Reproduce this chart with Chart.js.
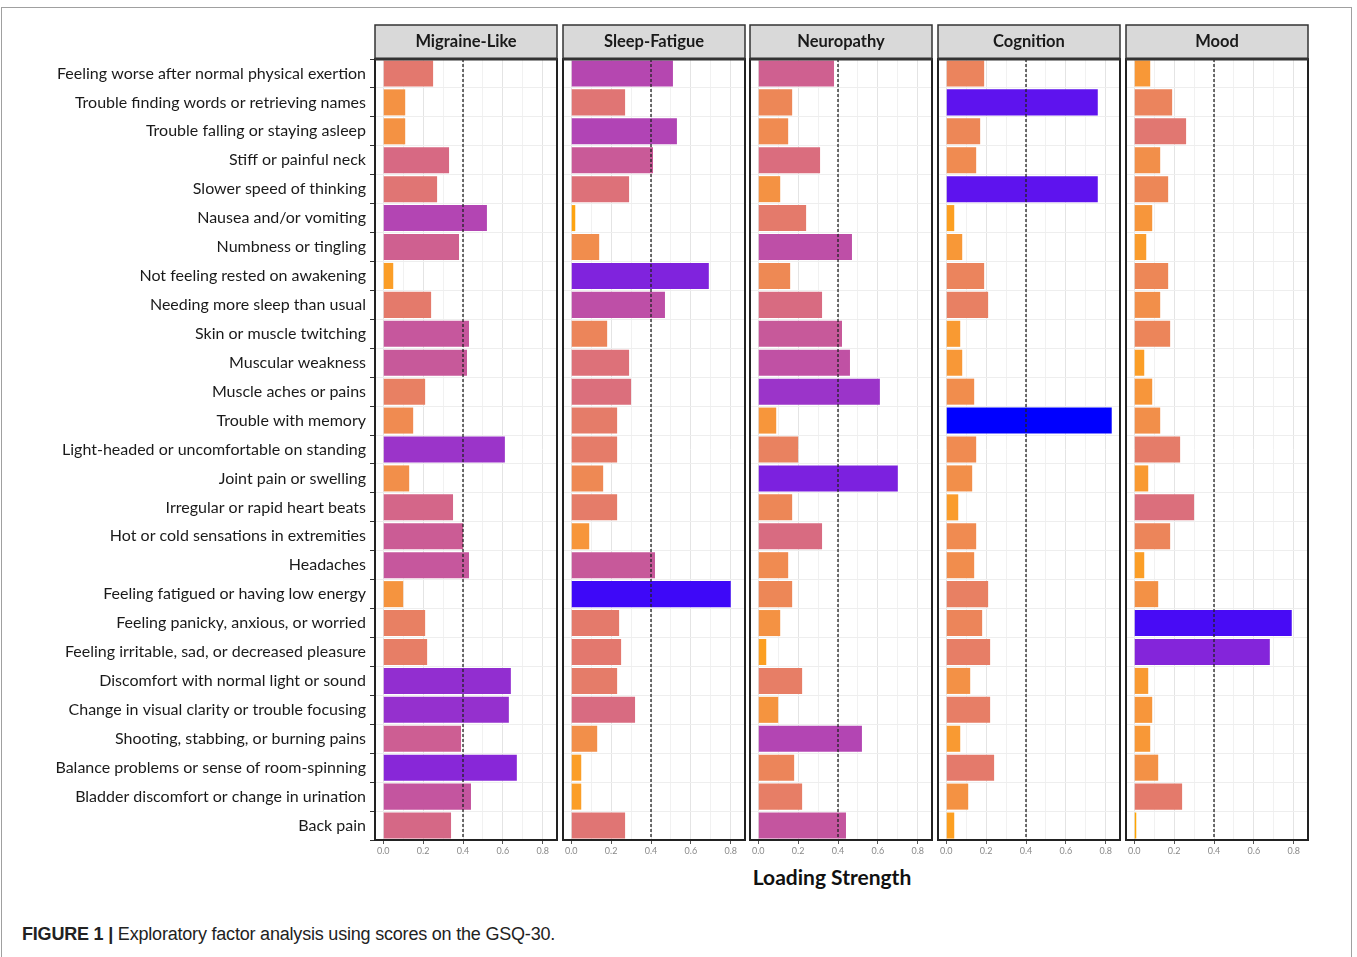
<!DOCTYPE html>
<html>
<head>
<meta charset="utf-8">
<script src="https://cdn.jsdelivr.net/npm/chart.js@4.4.1/dist/chart.umd.min.js"></script>
<style>
  body { margin:0; background:#fff; width:1357px; height:957px; overflow:hidden; position:relative; font-family: Lato, sans-serif; }
  #frame { position:absolute; left:1px; top:7px; width:1349px; height:960px; border:1px solid #a0a0a0; }
  canvas { position:absolute; top:0; }
  #xtitle { position:absolute; top:864px; left:732px; width:200px; text-align:center; font: bold 21px Lato, sans-serif; color:#111; }
  #caption { position:absolute; left:22px; top:924px; font-size:18px; color:#222; font-family:"Liberation Sans", Arial, sans-serif; letter-spacing:-0.2px; }
</style>
</head>
<body>
<div id="frame"></div>
<div id="xtitle">Loading Strength</div>
<div id="caption"><b>FIGURE 1 |</b> Exploratory factor analysis using scores on the GSQ-30.</div>
<script>
const symptoms = [
  'Feeling worse after normal physical exertion',
  'Trouble finding words or retrieving names',
  'Trouble falling or staying asleep',
  'Stiff or painful neck',
  'Slower speed of thinking',
  'Nausea and/or vomiting',
  'Numbness or tingling',
  'Not feeling rested on awakening',
  'Needing more sleep than usual',
  'Skin or muscle twitching',
  'Muscular weakness',
  'Muscle aches or pains',
  'Trouble with memory',
  'Light-headed or uncomfortable on standing',
  'Joint pain or swelling',
  'Irregular or rapid heart beats',
  'Hot or cold sensations in extremities',
  'Headaches',
  'Feeling fatigued or having low energy',
  'Feeling panicky, anxious, or worried',
  'Feeling irritable, sad, or decreased pleasure',
  'Discomfort with normal light or sound',
  'Change in visual clarity or trouble focusing',
  'Shooting, stabbing, or burning pains',
  'Balance problems or sense of room-spinning',
  'Bladder discomfort or change in urination',
  'Back pain'
];

const factorNames = ['Migraine-Like', 'Sleep-Fatigue', 'Neuropathy', 'Cognition', 'Mood'];

const migraineLike = [0.25, 0.11, 0.11, 0.33, 0.27, 0.52, 0.38, 0.05, 0.24, 0.43, 0.42, 0.21, 0.15, 0.61, 0.13, 0.35, 0.40, 0.43, 0.10, 0.21, 0.22, 0.64, 0.63, 0.39, 0.67, 0.44, 0.34];
const sleepFatigue = [0.51, 0.27, 0.53, 0.41, 0.29, 0.02, 0.14, 0.69, 0.47, 0.18, 0.29, 0.30, 0.23, 0.23, 0.16, 0.23, 0.09, 0.42, 0.80, 0.24, 0.25, 0.23, 0.32, 0.13, 0.05, 0.05, 0.27];
const neuropathy = [0.38, 0.17, 0.15, 0.31, 0.11, 0.24, 0.47, 0.16, 0.32, 0.42, 0.46, 0.61, 0.09, 0.20, 0.70, 0.17, 0.32, 0.15, 0.17, 0.11, 0.04, 0.22, 0.10, 0.52, 0.18, 0.22, 0.44];
const cognition = [0.19, 0.76, 0.17, 0.15, 0.76, 0.04, 0.08, 0.19, 0.21, 0.07, 0.08, 0.14, 0.83, 0.15, 0.13, 0.06, 0.15, 0.14, 0.21, 0.18, 0.22, 0.12, 0.22, 0.07, 0.24, 0.11, 0.04];
const mood = [0.08, 0.19, 0.26, 0.13, 0.17, 0.09, 0.06, 0.17, 0.13, 0.18, 0.05, 0.09, 0.13, 0.23, 0.07, 0.30, 0.18, 0.05, 0.12, 0.79, 0.68, 0.07, 0.09, 0.08, 0.12, 0.24, 0.01];

const xTickLabels = [0, 0.2, 0.4, 0.6, 0.8];
const gridValues = [0, 0.1, 0.2, 0.3, 0.4, 0.5, 0.6, 0.7, 0.8];
const cutoff = 0.4;

const seriesList = [migraineLike, sleepFatigue, neuropathy, cognition, mood];

// panel geometry
const panelLeft = [375, 563, 750, 938, 1126];
const panelWidth = 182;

// fill scale: orange -> blue, interpolated in Lab like ggplot's scale_fill_gradient
const allValues = seriesList.flat();
const vMin = Math.min(...allValues), vMax = Math.max(...allValues);
const xMin = -0.05 * vMax, xMax = 1.05 * vMax;

function toLab(r, g, b) {
  const lin = c => { c /= 255; return c <= 0.04045 ? c / 12.92 : Math.pow((c + 0.055) / 1.055, 2.4); };
  const R = lin(r), G = lin(g), B = lin(b);
  const X = (R * 0.4124 + G * 0.3576 + B * 0.1805) / 0.95047;
  const Y = (R * 0.2126 + G * 0.7152 + B * 0.0722);
  const Z = (R * 0.0193 + G * 0.1192 + B * 0.9505) / 1.08883;
  const f = t => t > 0.008856 ? Math.cbrt(t) : 7.787 * t + 16 / 116;
  return [116 * f(Y) - 16, 500 * (f(X) - f(Y)), 200 * (f(Y) - f(Z))];
}
function fromLab(L, a, b) {
  const fy = (L + 16) / 116, fx = fy + a / 500, fz = fy - b / 200;
  const inv = t => t * t * t > 0.008856 ? t * t * t : (t - 16 / 116) / 7.787;
  const X = inv(fx) * 0.95047, Y = inv(fy), Z = inv(fz) * 1.08883;
  const R = 3.2406 * X - 1.5372 * Y - 0.4986 * Z;
  const G = -0.9689 * X + 1.8758 * Y + 0.0415 * Z;
  const B = 0.0557 * X - 0.2040 * Y + 1.0570 * Z;
  const g = c => { c = c <= 0.0031308 ? 12.92 * c : 1.055 * Math.pow(c, 1 / 2.4) - 0.055; return Math.round(Math.min(1, Math.max(0, c)) * 255); };
  return 'rgb(' + g(R) + ',' + g(G) + ',' + g(B) + ')';
}
const lowLab = toLab(255, 165, 0), highLab = toLab(0, 0, 255);
function fillFor(v) {
  const t = Math.min(1, Math.max(0, (v - vMin) / (vMax - vMin)));
  return fromLab(lowLab[0] + (highLab[0] - lowLab[0]) * t,
                 lowLab[1] + (highLab[1] - lowLab[1]) * t,
                 lowLab[2] + (highLab[2] - lowLab[2]) * t);
}

const panelDecor = {
  id: 'panelDecor',
  afterDatasetsDraw(chart, args, opts) {
    const ctx = chart.ctx, a = chart.chartArea, x = chart.scales.x;
    const px = x.getPixelForValue(cutoff);
    ctx.save();
    ctx.setLineDash([3, 2]);
    ctx.strokeStyle = '#222';
    ctx.lineWidth = 1.3;
    ctx.beginPath();
    ctx.moveTo(px, a.top);
    ctx.lineTo(px, a.bottom);
    ctx.stroke();
    ctx.setLineDash([]);

    ctx.lineWidth = 2;
    ctx.strokeStyle = '#222';
    ctx.strokeRect(a.left, a.top, a.right - a.left, a.bottom - a.top);

    // facet strip
    ctx.fillStyle = '#d9d9d9';
    ctx.fillRect(a.left, 25, a.right - a.left, a.top - 25);
    ctx.lineWidth = 1.5;
    ctx.strokeStyle = '#333';
    ctx.strokeRect(a.left, 25, a.right - a.left, a.top - 25);
    ctx.lineWidth = 3;
    ctx.beginPath();
    ctx.moveTo(a.left, a.top);
    ctx.lineTo(a.right, a.top);
    ctx.stroke();

    ctx.fillStyle = '#1a1a1a';
    ctx.font = 'bold 16.5px Lato, sans-serif';
    ctx.textAlign = 'center';
    ctx.textBaseline = 'middle';
    ctx.fillText(opts.title, (a.left + a.right) / 2, 42);
    ctx.restore();
  }
};

function makePanel(idx) {
  const first = idx === 0;
  const left = panelLeft[idx];
  const cLeft = first ? 0 : left - 3;
  const cWidth = first ? left + panelWidth + 3 : panelWidth + 6;
  const canvas = document.createElement('canvas');
  canvas.width = cWidth;
  canvas.height = 862;
  canvas.style.left = cLeft + 'px';
  canvas.style.width = cWidth + 'px';
  canvas.style.height = '862px';
  document.body.appendChild(canvas);

  new Chart(canvas, {
    type: 'bar',
    data: {
      labels: symptoms,
      datasets: [{
        data: seriesList[idx],
        backgroundColor: c => fillFor(c.raw),
        categoryPercentage: 1,
        barPercentage: 0.9
      }]
    },
    options: {
      indexAxis: 'y',
      responsive: false,
      animation: false,
      devicePixelRatio: 1,
      layout: { padding: { top: 59, left: first ? 0 : 3, right: 3, bottom: 0 } },
      plugins: {
        legend: { display: false },
        tooltip: { enabled: false },
        panelDecor: { title: factorNames[idx] }
      },
      scales: {
        x: {
          min: xMin,
          max: xMax,
          afterBuildTicks: s => { s.ticks = gridValues.map(v => ({ value: v })); },
          afterFit: s => { s.height = 22; },
          border: { display: false },
          grid: {
            color: c => xTickLabels.includes(c.tick.value) ? '#e4e4e4' : '#f1f1f1',
            tickColor: c => xTickLabels.includes(c.tick.value) ? '#555' : 'rgba(0,0,0,0)',
            tickLength: 4
          },
          ticks: {
            autoSkip: false,
            maxRotation: 0,
            padding: 2,
            color: '#8a8a8a',
            font: { family: 'Lato, sans-serif', size: 9 },
            callback: v => xTickLabels.includes(v) ? v.toFixed(1) : ''
          }
        },
        y: {
          afterFit: s => { s.width = first ? left : 0; },
          border: { display: false },
          grid: { color: '#eeeeee', drawTicks: first, tickLength: 5, tickColor: '#333' },
          ticks: {
            display: first,
            autoSkip: false,
            padding: 4,
            color: '#1a1a1a',
            font: { family: 'Lato, sans-serif', size: 16 }
          }
        }
      }
    },
    plugins: [panelDecor]
  });
}

factorNames.forEach((name, i) => makePanel(i));
</script>
</body>
</html>
